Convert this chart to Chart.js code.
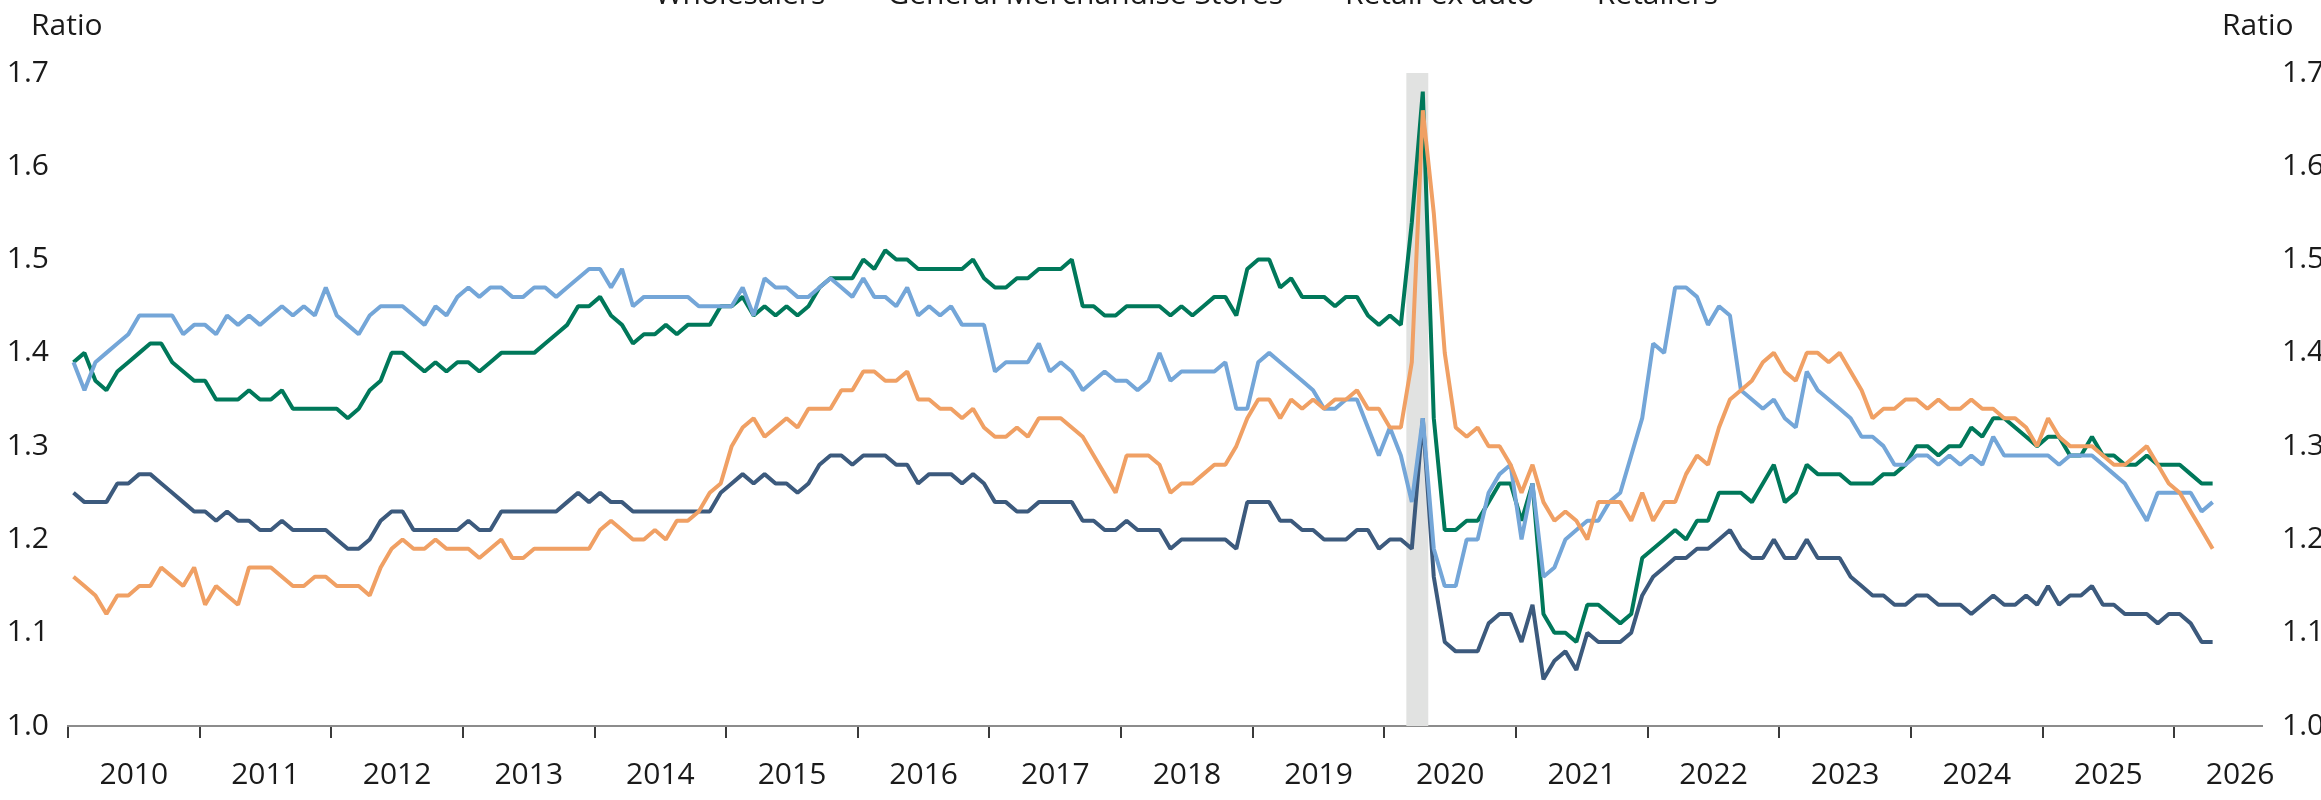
<!DOCTYPE html>
<html>
<head>
<meta charset="utf-8">
<title>Inventories to sales ratio</title>
<script src="https://cdn.jsdelivr.net/npm/chart.js@4.4.1/dist/chart.umd.min.js"></script>
<style>
	html, body { margin: 0; padding: 0; background: #fff; overflow: hidden; }
	#wrap { position: absolute; left: 0; top: -30px; width: 2321px; height: 834px; }
</style>
</head>
<body>
<div id="wrap"><canvas id="myChart"></canvas></div>
<script>
// monthly series, first point = Jan 2010, last point = Apr 2026
const firstYear = 2010;

const wholesalers = [
	1.16, 1.15, 1.14, 1.12, 1.14, 1.14, 1.15, 1.15, 1.17, 1.16,
	1.15, 1.17, 1.13, 1.15, 1.14, 1.13, 1.17, 1.17, 1.17, 1.16,
	1.15, 1.15, 1.16, 1.16, 1.15, 1.15, 1.15, 1.14, 1.17, 1.19,
	1.20, 1.19, 1.19, 1.20, 1.19, 1.19, 1.19, 1.18, 1.19, 1.20,
	1.18, 1.18, 1.19, 1.19, 1.19, 1.19, 1.19, 1.19, 1.21, 1.22,
	1.21, 1.20, 1.20, 1.21, 1.20, 1.22, 1.22, 1.23, 1.25, 1.26,
	1.30, 1.32, 1.33, 1.31, 1.32, 1.33, 1.32, 1.34, 1.34, 1.34,
	1.36, 1.36, 1.38, 1.38, 1.37, 1.37, 1.38, 1.35, 1.35, 1.34,
	1.34, 1.33, 1.34, 1.32, 1.31, 1.31, 1.32, 1.31, 1.33, 1.33,
	1.33, 1.32, 1.31, 1.29, 1.27, 1.25, 1.29, 1.29, 1.29, 1.28,
	1.25, 1.26, 1.26, 1.27, 1.28, 1.28, 1.30, 1.33, 1.35, 1.35,
	1.33, 1.35, 1.34, 1.35, 1.34, 1.35, 1.35, 1.36, 1.34, 1.34,
	1.32, 1.32, 1.39, 1.66, 1.55, 1.40, 1.32, 1.31, 1.32, 1.30,
	1.30, 1.28, 1.25, 1.28, 1.24, 1.22, 1.23, 1.22, 1.20, 1.24,
	1.24, 1.24, 1.22, 1.25, 1.22, 1.24, 1.24, 1.27, 1.29, 1.28,
	1.32, 1.35, 1.36, 1.37, 1.39, 1.40, 1.38, 1.37, 1.40, 1.40,
	1.39, 1.40, 1.38, 1.36, 1.33, 1.34, 1.34, 1.35, 1.35, 1.34,
	1.35, 1.34, 1.34, 1.35, 1.34, 1.34, 1.33, 1.33, 1.32, 1.30,
	1.33, 1.31, 1.30, 1.30, 1.30, 1.29, 1.28, 1.28, 1.29, 1.30,
	1.28, 1.26, 1.25, 1.23, 1.21, 1.19
];

const generalMerchandise = [
	1.39, 1.36, 1.39, 1.40, 1.41, 1.42, 1.44, 1.44, 1.44, 1.44,
	1.42, 1.43, 1.43, 1.42, 1.44, 1.43, 1.44, 1.43, 1.44, 1.45,
	1.44, 1.45, 1.44, 1.47, 1.44, 1.43, 1.42, 1.44, 1.45, 1.45,
	1.45, 1.44, 1.43, 1.45, 1.44, 1.46, 1.47, 1.46, 1.47, 1.47,
	1.46, 1.46, 1.47, 1.47, 1.46, 1.47, 1.48, 1.49, 1.49, 1.47,
	1.49, 1.45, 1.46, 1.46, 1.46, 1.46, 1.46, 1.45, 1.45, 1.45,
	1.45, 1.47, 1.44, 1.48, 1.47, 1.47, 1.46, 1.46, 1.47, 1.48,
	1.47, 1.46, 1.48, 1.46, 1.46, 1.45, 1.47, 1.44, 1.45, 1.44,
	1.45, 1.43, 1.43, 1.43, 1.38, 1.39, 1.39, 1.39, 1.41, 1.38,
	1.39, 1.38, 1.36, 1.37, 1.38, 1.37, 1.37, 1.36, 1.37, 1.40,
	1.37, 1.38, 1.38, 1.38, 1.38, 1.39, 1.34, 1.34, 1.39, 1.40,
	1.39, 1.38, 1.37, 1.36, 1.34, 1.34, 1.35, 1.35, 1.32, 1.29,
	1.32, 1.29, 1.24, 1.33, 1.19, 1.15, 1.15, 1.20, 1.20, 1.25,
	1.27, 1.28, 1.20, 1.26, 1.16, 1.17, 1.20, 1.21, 1.22, 1.22,
	1.24, 1.25, 1.29, 1.33, 1.41, 1.40, 1.47, 1.47, 1.46, 1.43,
	1.45, 1.44, 1.36, 1.35, 1.34, 1.35, 1.33, 1.32, 1.38, 1.36,
	1.35, 1.34, 1.33, 1.31, 1.31, 1.30, 1.28, 1.28, 1.29, 1.29,
	1.28, 1.29, 1.28, 1.29, 1.28, 1.31, 1.29, 1.29, 1.29, 1.29,
	1.29, 1.28, 1.29, 1.29, 1.29, 1.28, 1.27, 1.26, 1.24, 1.22,
	1.25, 1.25, 1.25, 1.25, 1.23, 1.24
];

const retailExAuto = [
	1.25, 1.24, 1.24, 1.24, 1.26, 1.26, 1.27, 1.27, 1.26, 1.25,
	1.24, 1.23, 1.23, 1.22, 1.23, 1.22, 1.22, 1.21, 1.21, 1.22,
	1.21, 1.21, 1.21, 1.21, 1.20, 1.19, 1.19, 1.20, 1.22, 1.23,
	1.23, 1.21, 1.21, 1.21, 1.21, 1.21, 1.22, 1.21, 1.21, 1.23,
	1.23, 1.23, 1.23, 1.23, 1.23, 1.24, 1.25, 1.24, 1.25, 1.24,
	1.24, 1.23, 1.23, 1.23, 1.23, 1.23, 1.23, 1.23, 1.23, 1.25,
	1.26, 1.27, 1.26, 1.27, 1.26, 1.26, 1.25, 1.26, 1.28, 1.29,
	1.29, 1.28, 1.29, 1.29, 1.29, 1.28, 1.28, 1.26, 1.27, 1.27,
	1.27, 1.26, 1.27, 1.26, 1.24, 1.24, 1.23, 1.23, 1.24, 1.24,
	1.24, 1.24, 1.22, 1.22, 1.21, 1.21, 1.22, 1.21, 1.21, 1.21,
	1.19, 1.20, 1.20, 1.20, 1.20, 1.20, 1.19, 1.24, 1.24, 1.24,
	1.22, 1.22, 1.21, 1.21, 1.20, 1.20, 1.20, 1.21, 1.21, 1.19,
	1.20, 1.20, 1.19, 1.33, 1.16, 1.09, 1.08, 1.08, 1.08, 1.11,
	1.12, 1.12, 1.09, 1.13, 1.05, 1.07, 1.08, 1.06, 1.10, 1.09,
	1.09, 1.09, 1.10, 1.14, 1.16, 1.17, 1.18, 1.18, 1.19, 1.19,
	1.20, 1.21, 1.19, 1.18, 1.18, 1.20, 1.18, 1.18, 1.20, 1.18,
	1.18, 1.18, 1.16, 1.15, 1.14, 1.14, 1.13, 1.13, 1.14, 1.14,
	1.13, 1.13, 1.13, 1.12, 1.13, 1.14, 1.13, 1.13, 1.14, 1.13,
	1.15, 1.13, 1.14, 1.14, 1.15, 1.13, 1.13, 1.12, 1.12, 1.12,
	1.11, 1.12, 1.12, 1.11, 1.09, 1.09
];

const retailers = [
	1.39, 1.40, 1.37, 1.36, 1.38, 1.39, 1.40, 1.41, 1.41, 1.39,
	1.38, 1.37, 1.37, 1.35, 1.35, 1.35, 1.36, 1.35, 1.35, 1.36,
	1.34, 1.34, 1.34, 1.34, 1.34, 1.33, 1.34, 1.36, 1.37, 1.40,
	1.40, 1.39, 1.38, 1.39, 1.38, 1.39, 1.39, 1.38, 1.39, 1.40,
	1.40, 1.40, 1.40, 1.41, 1.42, 1.43, 1.45, 1.45, 1.46, 1.44,
	1.43, 1.41, 1.42, 1.42, 1.43, 1.42, 1.43, 1.43, 1.43, 1.45,
	1.45, 1.46, 1.44, 1.45, 1.44, 1.45, 1.44, 1.45, 1.47, 1.48,
	1.48, 1.48, 1.50, 1.49, 1.51, 1.50, 1.50, 1.49, 1.49, 1.49,
	1.49, 1.49, 1.50, 1.48, 1.47, 1.47, 1.48, 1.48, 1.49, 1.49,
	1.49, 1.50, 1.45, 1.45, 1.44, 1.44, 1.45, 1.45, 1.45, 1.45,
	1.44, 1.45, 1.44, 1.45, 1.46, 1.46, 1.44, 1.49, 1.50, 1.50,
	1.47, 1.48, 1.46, 1.46, 1.46, 1.45, 1.46, 1.46, 1.44, 1.43,
	1.44, 1.43, 1.54, 1.68, 1.33, 1.21, 1.21, 1.22, 1.22, 1.24,
	1.26, 1.26, 1.22, 1.26, 1.12, 1.10, 1.10, 1.09, 1.13, 1.13,
	1.12, 1.11, 1.12, 1.18, 1.19, 1.20, 1.21, 1.20, 1.22, 1.22,
	1.25, 1.25, 1.25, 1.24, 1.26, 1.28, 1.24, 1.25, 1.28, 1.27,
	1.27, 1.27, 1.26, 1.26, 1.26, 1.27, 1.27, 1.28, 1.30, 1.30,
	1.29, 1.30, 1.30, 1.32, 1.31, 1.33, 1.33, 1.32, 1.31, 1.30,
	1.31, 1.31, 1.29, 1.29, 1.31, 1.29, 1.29, 1.28, 1.28, 1.29,
	1.28, 1.28, 1.28, 1.27, 1.26, 1.26
];

// month positions on the time axis (points sit mid-month)
const months = wholesalers.map((_, i) => firstYear + (i + 0.5) / 12);

const yearLabels = [2010, 2011, 2012, 2013, 2014, 2015, 2016, 2017, 2018, 2019, 2020, 2021, 2022, 2023, 2024, 2025, 2026];
const ratioTicks = [1.0, 1.1, 1.2, 1.3, 1.4, 1.5, 1.6, 1.7];
const recession = [2020 + 2 / 12, 2020 + 4 / 12];
const xMin = 2010;
const xMax = 2026 + 8 / 12;

const fontFamily = '"Open Sans", "Noto Sans", sans-serif';
const textColor = "#1a1a1a";

Chart.defaults.font.family = fontFamily;
Chart.defaults.font.size = 30;
Chart.defaults.color = textColor;

const toPoints = (values) => values.map((v, i) => ({ x: months[i], y: v }));

const serie = (label, values, color) => ({
	label: label,
	data: toPoints(values),
	borderColor: color,
	backgroundColor: color,
	borderWidth: 4,
	borderJoinStyle: "bevel",
	pointRadius: 0,
	tension: 0,
	fill: false,
	xAxisID: "x",
	yAxisID: "y",
});

//sombra gris del periodo de recesion, se dibuja debajo de las lineas
const recessionShade = {
	id: "recessionShade",
	beforeDatasetsDraw(chart) {
		const { ctx, chartArea, scales } = chart;
		const x0 = scales.x.getPixelForValue(recession[0]);
		const x1 = scales.x.getPixelForValue(recession[1]);
		ctx.save();
		ctx.fillStyle = "#e1e2e1";
		ctx.fillRect(x0, chartArea.top, x1 - x0, chartArea.bottom - chartArea.top);
		ctx.restore();
	},
};

//titulos "Ratio" arriba de cada eje
const axisTitles = {
	id: "axisTitles",
	afterDraw(chart) {
		const { ctx } = chart;
		ctx.save();
		ctx.font = "30px " + fontFamily;
		ctx.fillStyle = textColor;
		ctx.textBaseline = "alphabetic";
		ctx.textAlign = "left";
		ctx.fillText("Ratio", 31, 65);
		ctx.fillText("Ratio", 2222, 65);
		ctx.restore();
	},
};

//deja espacio entre la leyenda y el area del grafico
const legendSpace = {
	id: "legendSpace",
	beforeInit(chart) {
		const fit = chart.legend.fit;
		chart.legend.fit = function () {
			fit.bind(chart.legend)();
			this.height = 103;
		};
	},
};

const data = {
	datasets: [
		serie("Wholesalers", wholesalers, "#f0a064"),
		serie("General Merchandise Stores", generalMerchandise, "#74a6d8"),
		serie("Retail ex auto", retailExAuto, "#3c5a7d"),
		serie("Retailers", retailers, "#00785a"),
	],
};

const config = {
	type: "line",
	data,
	plugins: [recessionShade, axisTitles, legendSpace],
	options: {
		responsive: true,
		maintainAspectRatio: false,
		animation: false,
		devicePixelRatio: 1,
		layout: { padding: 0 },
		plugins: {
			legend: {
				display: true,
				position: "top",
				align: "center",
				labels: {
					boxWidth: 37,
					boxHeight: 4,
					padding: 10,
					color: textColor,
					font: { size: 30 },
				},
			},
			tooltip: { enabled: false },
		},
		scales: {
			x: {
				type: "linear",
				position: "bottom",
				min: xMin,
				max: xMax,
				afterBuildTicks: (s) => {
					s.ticks = yearLabels.map((y) => ({ value: y }));
				},
				ticks: { display: false },
				grid: {
					drawOnChartArea: false,
					drawTicks: true,
					tickLength: 12,
					color: "#3a3a3a",
					lineWidth: 2,
				},
				border: { display: true, color: "#8c8c8c", width: 2 },
			},
			xLabels: {
				type: "linear",
				position: "bottom",
				min: xMin,
				max: xMax,
				afterBuildTicks: (s) => {
					s.ticks = yearLabels.map((y) => ({ value: y + 0.5 }));
				},
				ticks: {
					callback: (v) => String(Math.floor(v)),
					padding: 11,
					maxRotation: 0,
					autoSkip: false,
					color: textColor,
				},
				grid: { display: false },
				border: { display: false },
			},
			y: {
				type: "linear",
				position: "left",
				min: 1.0,
				max: 1.7,
				afterBuildTicks: (s) => {
					s.ticks = ratioTicks.map((v) => ({ value: v }));
				},
				afterFit: (s) => {
					s.width = 68;
				},
				ticks: {
					callback: (v) => v.toFixed(1),
					padding: 11,
					color: textColor,
				},
				grid: { display: false },
				border: { display: false },
			},
			y2: {
				type: "linear",
				position: "right",
				min: 1.0,
				max: 1.7,
				afterBuildTicks: (s) => {
					s.ticks = ratioTicks.map((v) => ({ value: v }));
				},
				afterFit: (s) => {
					s.width = 59;
				},
				ticks: {
					callback: (v) => v.toFixed(1),
					padding: 12,
					color: textColor,
				},
				grid: { display: false },
				border: { display: false },
			},
		},
	},
};

const myChart = new Chart(document.getElementById("myChart"), config);
</script>
</body>
</html>
